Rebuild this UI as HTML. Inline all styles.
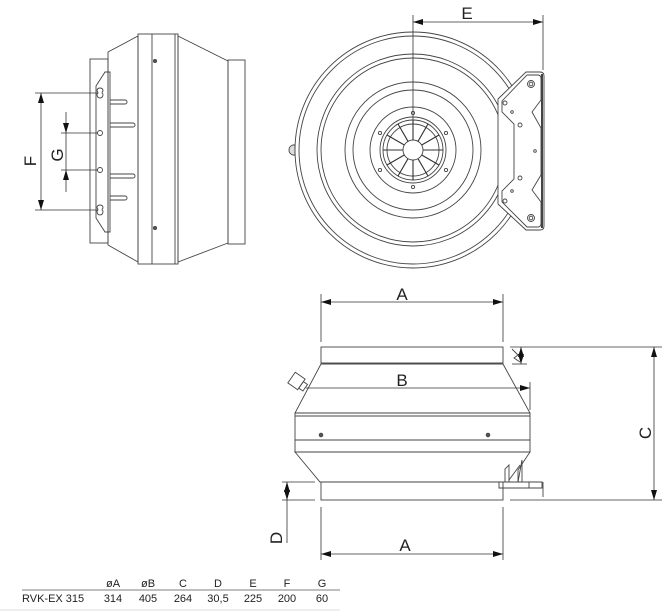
<!DOCTYPE html>
<html><head><meta charset="utf-8"><style>
html,body{margin:0;padding:0;background:#fff;}
svg{display:block;}
text{font-family:"Liberation Sans",sans-serif;fill:#222;}
</style></head><body>
<svg width="672" height="612" viewBox="0 0 672 612" xmlns="http://www.w3.org/2000/svg">
<defs>
<marker id="ar" viewBox="0 0 10 6" refX="10" refY="3" markerWidth="10" markerHeight="6" orient="auto-start-reverse" markerUnits="userSpaceOnUse"><path d="M0,0 L10,3 L0,6 z" fill="#111"/></marker>
</defs>
<g fill="none" stroke="#444" stroke-width="0.9">
<!-- LEFT SIDE VIEW -->
<rect x="90" y="59" width="18" height="184"/>
<polygon points="108,52 138,36 138,262 108,245"/>
<rect x="138" y="34" width="40" height="230"/>
<line x1="152" y1="34" x2="152" y2="264"/>
<line x1="175" y1="34" x2="175" y2="264"/>
<polygon points="178,36 228,61 228,243 178,262"/>
<rect x="228" y="60" width="17" height="184"/>
<circle cx="155" cy="61" r="1.6" fill="#555"/>
<circle cx="155" cy="228" r="1.6" fill="#555"/>
<polygon points="105,72 110,72 110,232 105,232 96,218 96,86"/>
<line x1="108" y1="74" x2="108" y2="230"/>
<g>
<path d="M100,88 q3,0 3,3 q-2,2 0,3 q0,4 -3,4 q-3,0 -3,-4 q2,-1 0,-3 q0,-3 3,-3z"/>
<path d="M100,205 q3,0 3,3 q-2,2 0,3 q0,4 -3,4 q-3,0 -3,-4 q2,-1 0,-3 q0,-3 3,-3z"/>
<circle cx="100" cy="133" r="2.5"/><circle cx="100" cy="170" r="2.5"/>
</g>
<path d="M110,100 h15 a2,2 0 0 1 0,4 h-15"/>
<path d="M110,123 h23 a2,2 0 0 1 0,4 h-23"/>
<path d="M110,174 h23 a2,2 0 0 1 0,4 h-23"/>
<path d="M110,196 h15 a2,2 0 0 1 0,4 h-15"/>
<!-- FRONT VIEW -->
<path d="M295,145 a5,5 0 0 0 -6,5 a5,5 0 0 0 6,5 z" fill="#ddd"/>
<circle cx="413" cy="150" r="118" fill="#fff"/>
<circle cx="413" cy="150" r="114"/>
<circle cx="413" cy="150" r="96"/>
<circle cx="413" cy="150" r="92"/>
<circle cx="413" cy="150" r="68"/>
<circle cx="413" cy="150" r="60"/>
<circle cx="413" cy="150" r="43"/>
<circle cx="413" cy="150" r="33"/>
<circle cx="413" cy="150" r="30"/>
<circle cx="413" cy="150" r="26"/>
<circle cx="413" cy="150" r="10"/>
<g stroke="#333" stroke-width="1.1">
<line x1="413" y1="140" x2="413" y2="120"/><line x1="413" y1="160" x2="413" y2="180"/>
<line x1="403" y1="150" x2="383" y2="150"/><line x1="423" y1="150" x2="443" y2="150"/>
<line x1="418" y1="141.3" x2="428" y2="124"/><line x1="408" y1="158.7" x2="398" y2="176"/>
<line x1="408" y1="141.3" x2="398" y2="124"/><line x1="418" y1="158.7" x2="428" y2="176"/>
<line x1="421.7" y1="145" x2="439" y2="135"/><line x1="404.3" y1="155" x2="387" y2="165"/>
<line x1="404.3" y1="145" x2="387" y2="135"/><line x1="421.7" y1="155" x2="439" y2="165"/>
</g>
<circle cx="413" cy="113" r="1.6"/><circle cx="413" cy="187" r="1.6"/>
<circle cx="380" cy="133" r="1.6"/><circle cx="446" cy="133" r="1.6"/>
<circle cx="380" cy="170" r="1.6"/><circle cx="446" cy="170" r="1.6"/>
<!-- bracket -->
<path d="M526,72 L540,72 Q544,72 544,76 L544,226 Q544,230 540,230 L526,230 L498,204 L498,99 Z" fill="#fff"/>
<path d="M527,75 L538,75 Q541,75 541,79 L541,100 L532,112 L541,128 L541,175 L532,190 L541,202 L541,223 Q541,227 538,227 L527,227 L502,202 L502,191 L514,179 L514,124 L502,112 L502,101 Z"/>
<line x1="542" y1="74" x2="542" y2="228" stroke-width="2"/>
<circle cx="531" cy="84" r="3.5"/><circle cx="531" cy="84" r="1.8"/>
<circle cx="531" cy="218" r="3.5"/><circle cx="531" cy="218" r="1.8"/>
<circle cx="505" cy="103" r="2"/><circle cx="505" cy="201" r="2"/>
<circle cx="520" cy="125" r="2"/><circle cx="520" cy="178" r="2"/>
<circle cx="512" cy="112" r="1.3"/><circle cx="512" cy="191" r="1.3"/>
<circle cx="535" cy="151" r="1.3"/>
<!-- BOTTOM SIDE VIEW -->
<rect x="321" y="347" width="182" height="16"/>
<polygon points="321,364 503,364 530,413 295,413"/>
<rect x="295" y="413" width="235" height="39"/>
<line x1="295" y1="416" x2="530" y2="416"/>
<line x1="295" y1="440" x2="530" y2="440"/>
<polygon points="295,452 530,452 518,470 518,482 320,482"/>
<rect x="321" y="482" width="182" height="18"/>
<circle cx="321" cy="435" r="1.8" fill="#555"/><circle cx="488" cy="435" r="1.8" fill="#555"/>
<path d="M499,488 L542,488 L542,482 L499,482 Z"/>
<line x1="529" y1="482" x2="529" y2="488"/>
<line x1="543" y1="482" x2="543" y2="497"/>
<path d="M505,482 L505,469 L509,465 L509,482"/>
<path d="M518,482 L522,460 L522,482"/>
<path d="M509,480 L520,465"/>
<g transform="rotate(35 297 382)"><rect x="290" y="375" width="12" height="13"/><rect x="302" y="378" width="5" height="8"/></g>
<path d="M512,349 L518,355 L514,358 L520,362"/>
</g>
<!-- dimension lines -->
<g stroke="#333" stroke-width="0.8" fill="none">
<line x1="35" y1="93" x2="98" y2="93"/><line x1="35" y1="210" x2="98" y2="210"/>
<line x1="41" y1="93" x2="41" y2="210" marker-start="url(#ar)" marker-end="url(#ar)"/>
<line x1="61" y1="133" x2="98" y2="133"/><line x1="61" y1="170" x2="98" y2="170"/>
<line x1="66" y1="112" x2="66" y2="133" marker-end="url(#ar)"/>
<line x1="66" y1="192" x2="66" y2="170" marker-end="url(#ar)"/>
<line x1="66" y1="133" x2="66" y2="170"/>
<line x1="413" y1="15" x2="413" y2="140"/>
<line x1="543" y1="15" x2="543" y2="70"/>
<line x1="413" y1="22" x2="543" y2="22" marker-start="url(#ar)" marker-end="url(#ar)"/>
<line x1="321" y1="294" x2="321" y2="342"/><line x1="503" y1="294" x2="503" y2="342"/>
<line x1="321" y1="302" x2="503" y2="302" marker-start="url(#ar)" marker-end="url(#ar)"/>
<line x1="306" y1="388" x2="530" y2="388" marker-end="url(#ar)"/>
<line x1="530" y1="382" x2="530" y2="410"/>
<line x1="510" y1="347" x2="662" y2="347"/><line x1="510" y1="500" x2="662" y2="500"/>
<line x1="654" y1="347" x2="654" y2="500" marker-start="url(#ar)" marker-end="url(#ar)"/>
<line x1="512" y1="364" x2="527" y2="364"/>
<line x1="521" y1="347" x2="521" y2="364" marker-start="url(#ar)" marker-end="url(#ar)"/>
<line x1="282" y1="482" x2="315" y2="482"/><line x1="282" y1="500" x2="315" y2="500"/>
<line x1="287" y1="482" x2="287" y2="500" marker-start="url(#ar)" marker-end="url(#ar)"/>
<line x1="287" y1="500" x2="287" y2="543"/>
<line x1="321" y1="507" x2="321" y2="560"/><line x1="503" y1="507" x2="503" y2="560"/>
<line x1="321" y1="554" x2="503" y2="554" marker-start="url(#ar)" marker-end="url(#ar)"/>
</g>
<g font-size="17">
<text x="467" y="19" text-anchor="middle">E</text>
<text x="402" y="300" text-anchor="middle">A</text>
<text x="402" y="386" text-anchor="middle">B</text>
<text x="405" y="551" text-anchor="middle">A</text>
<text transform="translate(36 161) rotate(-90)" text-anchor="middle">F</text>
<text transform="translate(63 155) rotate(-90)" text-anchor="middle">G</text>
<text transform="translate(651 433) rotate(-90)" text-anchor="middle">C</text>
<text transform="translate(282 538) rotate(-90)" text-anchor="middle">D</text>
</g>
<g font-size="11" fill="#444">
<text x="113" y="587" text-anchor="middle">øA</text>
<text x="148" y="587" text-anchor="middle">øB</text>
<text x="183" y="587" text-anchor="middle">C</text>
<text x="218" y="587" text-anchor="middle">D</text>
<text x="253" y="587" text-anchor="middle">E</text>
<text x="287" y="587" text-anchor="middle">F</text>
<text x="322" y="587" text-anchor="middle">G</text>
<text x="22" y="602">RVK-EX 315</text>
<text x="113" y="602" text-anchor="middle">314</text>
<text x="148" y="602" text-anchor="middle">405</text>
<text x="183" y="602" text-anchor="middle">264</text>
<text x="218" y="602" text-anchor="middle">30,5</text>
<text x="253" y="602" text-anchor="middle">225</text>
<text x="287" y="602" text-anchor="middle">200</text>
<text x="322" y="602" text-anchor="middle">60</text>
</g>
<line x1="22" y1="590" x2="340" y2="590" stroke="#555" stroke-width="0.8"/>
<line x1="0" y1="610" x2="340" y2="610" stroke="#ddd" stroke-width="1"/>
</svg>
</body></html>
